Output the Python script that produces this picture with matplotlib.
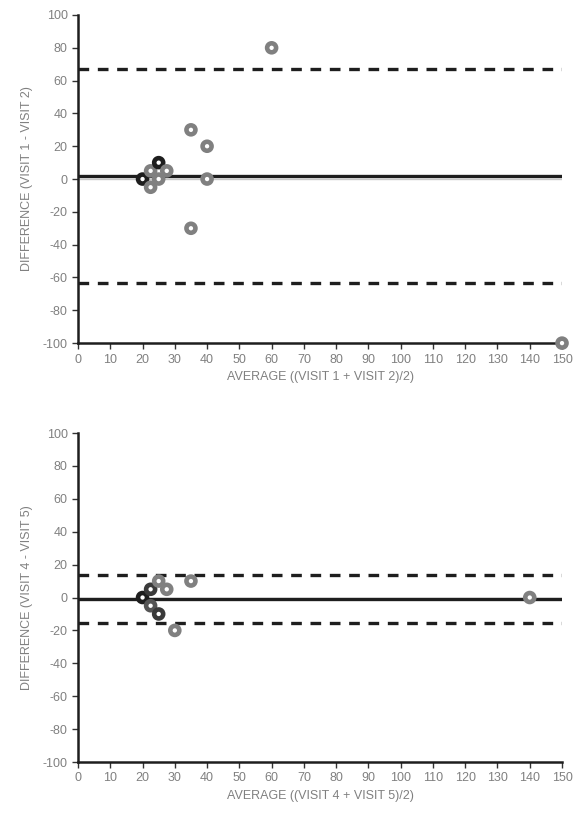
import numpy as np
import matplotlib.pyplot as plt

plt.rcParams['font.family'] = ['Liberation Sans', 'DejaVu Sans']
plt.rcParams['axes.unicode_minus'] = False

# visit 1 vs visit 2
avg12 = [20, 22.5, 22.5, 25, 25, 27.5, 35, 35, 40, 40, 60, 150]
diff12 = [0, 5, -5, 10, 0, 5, 30, -30, 20, 0, 80, -100]
edge12 = ['#1e1e1e', '#808080', '#808080', '#1e1e1e', '#808080', '#808080',
          '#808080', '#808080', '#808080', '#808080', '#808080', '#808080']
mean12, upper12, lower12 = 2.0, 67.3, -63.2

# visit 4 vs visit 5
avg45 = [20, 22.5, 22.5, 25, 25, 27.5, 30, 35, 140]
diff45 = [0, 5, -5, 10, -10, 5, -20, 10, 0]
edge45 = ['#1e1e1e', '#3a3a3a', '#555555', '#808080', '#3a3a3a', '#808080',
          '#808080', '#808080', '#808080']
mean45, upper45, lower45 = -0.9, 13.6, -15.2

xticks = np.arange(0, 151, 10)
yticks = np.arange(-100, 101, 20)
grey = '#808080'

fig = plt.figure(figsize=(5.8, 8.15), dpi=100)
ax1 = fig.add_axes([0.1345, 0.579, 0.8345, 0.4026])
ax2 = fig.add_axes([0.1345, 0.065, 0.8345, 0.4037])


def bland(ax, avg, diff, edges, mean, up, lo, xlab, ylab):
    ax.axhline(0, color='#c8c8c8', lw=1, zorder=1)
    ax.axhline(mean, color='#1e1e1e', lw=2.4, zorder=2)
    ax.axhline(up, color='#1e1e1e', lw=2.4, ls=(0, (3.2, 2.6)), zorder=2)
    ax.axhline(lo, color='#1e1e1e', lw=2.4, ls=(0, (3.2, 2.6)), zorder=2)
    ax.scatter(avg, diff, s=42, facecolors='white', edgecolors=edges,
               linewidths=3.3, zorder=3, clip_on=False)
    ax.set_xlim(0, 150)
    ax.set_ylim(-100, 100)
    ax.set_xticks(xticks)
    ax.set_yticks(yticks)
    for s in ['top', 'right']:
        ax.spines[s].set_visible(False)
    for s in ['left', 'bottom']:
        ax.spines[s].set_linewidth(1.8)
        ax.spines[s].set_color('#1e1e1e')
    ax.tick_params(axis='both', labelsize=9, labelcolor=grey, color='#333333',
                   length=4, width=1, pad=3.5)
    ax.set_xlabel(xlab, fontsize=9, color=grey, labelpad=4)
    ax.set_ylabel(ylab, fontsize=9, color=grey, labelpad=7)


bland(ax1, avg12, diff12, edge12, mean12, upper12, lower12,
      'AVERAGE ((VISIT 1 + VISIT 2)/2)', 'DIFFERENCE (VISIT 1 - VISIT 2)')
bland(ax2, avg45, diff45, edge45, mean45, upper45, lower45,
      'AVERAGE ((VISIT 4 + VISIT 5)/2)', 'DIFFERENCE (VISIT 4 - VISIT 5)')

fig.savefig('out.png')
